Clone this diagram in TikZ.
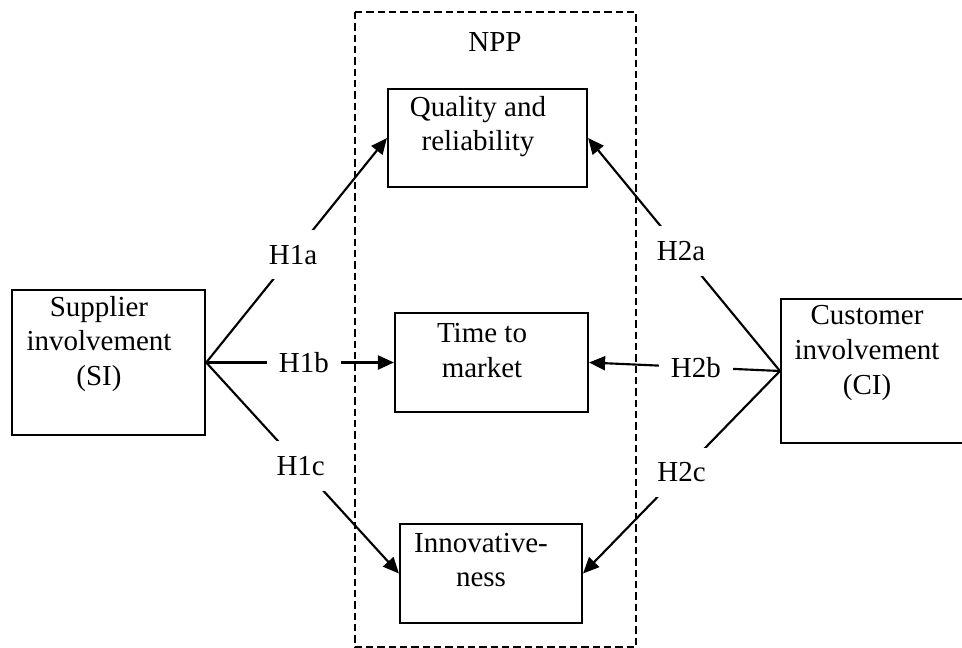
\documentclass[tikz,border=0pt]{standalone}
\usepackage{fontspec}
\setmainfont{Liberation Serif}
\usetikzlibrary{arrows.meta}

\begin{document}
\begin{tikzpicture}[x=0.75pt, y=-0.75pt,
        every node/.style={font=\fontsize{21.75}{26}\selectfont},
        box/.style={draw, line width=1.6pt, inner sep=0pt},
        boxtext/.style={align=center, inner sep=0pt},
        hyp/.style={fill=white, inner sep=0pt, minimum width=55pt, minimum height=37pt},
        arr/.style={line width=1.6pt, -{Triangle[length=12pt, width=10.5pt]}}]
    \useasboundingbox (0,0) rectangle (962,648);
    \clip (0,0) rectangle (962,648);
    % NPP frame
    \draw [line width=1.5pt, dash pattern=on 5.5pt off 3pt] (355,12) rectangle (636,647);
    \node (npp) at (495,42) {NPP};
    % antecedents
    \node [box, minimum width=145pt, minimum height=109pt] (si) at (108.5,362.5) {};
    \node [boxtext] (sitext) at (99,344) {Supplier\\involvement\\(SI)};
    \node [box, minimum width=143.25pt, minimum height=108pt] (ci) at (876.5,371) {};
    \node [boxtext] (citext) at (867,353) {Customer\\involvement\\(CI)};
    % performance boxes
    \node [box, minimum width=149.25pt, minimum height=73.5pt] (qr) at (487.5,138) {};
    \node [boxtext] (qrtext) at (478,126.5) {Quality and\\reliability};
    \node [box, minimum width=144.75pt, minimum height=74.25pt] (tm) at (491.5,362.5) {};
    \node [boxtext] (tmtext) at (482,350.5) {Time to\\market};
    \node [box, minimum width=136.5pt, minimum height=74.25pt] (in) at (491,573.5) {};
    \node [boxtext] (intext) at (481,560) {Innovative-\\ness};
    % hypotheses
    \draw [arr] (si.east) -- node [hyp, pos=0.48] (h1a) {H1a} (qr.west);
    \draw [arr] (si.east) -- node [hyp, pos=0.52] (h1b) {H1b} (tm.west);
    \draw [arr] (si.east) -- node [hyp, pos=0.49] (h1c) {H1c} (in.west);
    \draw [arr] (ci.west) -- node [hyp, pos=0.515] (h2a) {H2a} (qr.east);
    \draw [arr] (ci.west) -- node [hyp, pos=0.44] (h2b) {H2b} (tm.east);
    \draw [arr] (ci.west) -- node [hyp, pos=0.5] (h2c) {H2c} (in.east);
\end{tikzpicture}
\end{document}
